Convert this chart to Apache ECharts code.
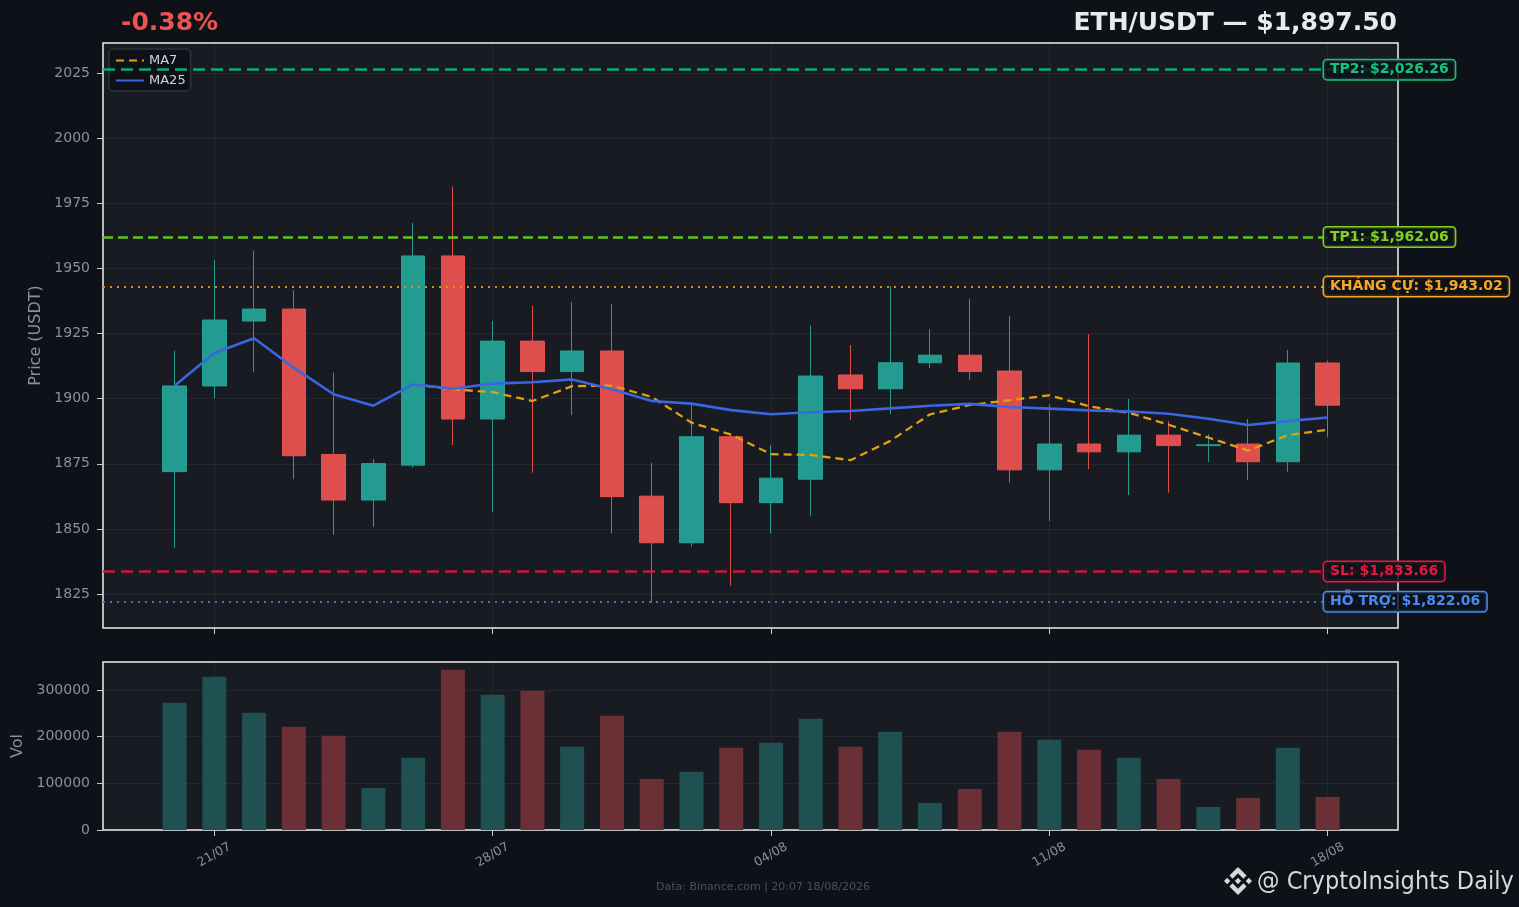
<!DOCTYPE html>
<html>
<head>
<meta charset="utf-8">
<script src="https://cdn.jsdelivr.net/npm/echarts@6/dist/echarts.min.js"></script>
<style>
html, body { margin: 0; padding: 0; background: #0e1118; }
#chart { width: 1519px; height: 907px; }
</style>
</head>
<body>
<div id="chart"></div>
<script>
// daily candles, 20/07 -> 18/08
var dates = ['20/07','21/07','22/07','23/07','24/07','25/07','26/07','27/07','28/07','29/07','30/07','31/07',
  '01/08','02/08','03/08','04/08','05/08','06/08','07/08','08/08','09/08','10/08','11/08','12/08','13/08','14/08',
  '15/08','16/08','17/08','18/08'];
var opens  = [1872.0,1904.9,1929.8,1934.4,1878.6,1861.1,1874.5,1954.8,1892.2,1922.1,1910.4,1918.3,1862.6,1844.7,1885.4,
  1860.1,1869.1,1909.1,1903.8,1913.8,1916.7,1910.6,1872.7,1882.6,1879.6,1886.0,1882.0,1882.6,1875.8,1913.7];
var closes = [1904.9,1930.2,1934.4,1878.1,1861.1,1875.1,1954.8,1892.2,1922.1,1910.4,1918.3,1862.4,1844.7,1885.4,1860.1,
  1869.5,1908.7,1903.8,1913.8,1916.7,1910.4,1872.7,1882.6,1879.6,1886.0,1882.0,1882.3,1875.8,1913.7,1897.5];
var lows   = [1842.8,1900.2,1910.3,1869.1,1847.8,1850.8,1873.5,1882.2,1856.6,1871.6,1893.7,1848.3,1821.8,1843.2,1828.2,
  1848.3,1855.1,1891.8,1894.1,1911.8,1907.3,1867.8,1853.1,1873.0,1863.0,1863.9,1875.7,1868.8,1872.0,1885.4];
var highs  = [1918.4,1953.2,1956.8,1941.7,1910.0,1876.8,1967.5,1981.4,1929.8,1935.6,1937.1,1936.4,1875.4,1898.4,1886.0,
  1882.2,1928.0,1920.6,1943.3,1926.7,1938.3,1931.7,1897.9,1924.8,1899.9,1891.4,1886.4,1892.2,1918.7,1914.6];
var volumes = [272700,328600,251300,221200,201900,90200,154600,343600,289900,298500,178200,244800,109500,124600,176100,
  186800,238400,178200,210500,58000,88000,210500,193300,171800,154600,109500,49400,68700,176100,70900];
var ma7  = [null,null,null,null,null,null,1905.5,1903.6,1902.5,1899.1,1904.8,1905.0,1900.7,1890.8,1886.2,
  1878.7,1878.4,1876.4,1883.8,1894.0,1897.6,1899.4,1901.3,1897.1,1894.6,1890.0,1885.1,1880.1,1886.0,1888.1];
var ma25 = [1905.0,1917.5,1923.2,1911.9,1901.7,1897.3,1905.5,1903.8,1905.8,1906.3,1907.4,1903.6,1899.1,1898.1,1895.6,
  1894.0,1894.8,1895.3,1896.3,1897.3,1898.0,1896.8,1896.2,1895.5,1895.1,1894.2,1892.3,1889.9,1891.4,1892.8];

// key levels
var levelNames  = ['TP2', 'TP1', 'KHÁNG CỰ', 'SL', 'HỖ TRỢ'];
var levelValues = [2026.26, 1962.06, 1943.02, 1833.66, 1822.06];

// tick labels
var dateTicks  = ['21/07', '28/07', '04/08', '11/08', '18/08'];
var priceTicks = [1825, 1850, 1875, 1900, 1925, 1950, 1975, 2000, 2025];
var volTicks   = [0, 100000, 200000, 300000];

var FONT = "'DejaVu Sans', sans-serif";
var UP = '#26a69a', DOWN = '#ef5350';
var lineColors  = ['#00b26a', '#62c51a', '#d4940e', '#c8193a', '#3a6fd0'];
var lineTypes   = [[12, 6], [10, 5], [2, 5], [12, 6], [2, 5]];
var labelColors = ['#14c47c', '#7ed321', '#f5a623', '#e8173f', '#4a8af0'];

// x position of each day (21/07 = 0)
var xs = dates.map(function (d, i) { return i - 1; });
var tickXs = dateTicks.map(function (t) { return dates.indexOf(t) - 1; });

var candleData = dates.map(function (d, i) { return [xs[i], opens[i], closes[i], lows[i], highs[i]]; });
var volData = dates.map(function (d, i) { return [xs[i], volumes[i]]; });
var ma7Data = dates.map(function (d, i) { return [xs[i], ma7[i] == null ? '-' : ma7[i]]; });
var ma25Data = dates.map(function (d, i) { return [xs[i], ma25[i]]; });

function fmtMoney(v) {
  return '$' + v.toLocaleString('en-US', { minimumFractionDigits: 2, maximumFractionDigits: 2 });
}

var markLines = levelValues.map(function (v, i) {
  return {
    yAxis: v,
    lineStyle: { color: lineColors[i], type: lineTypes[i], width: i === 2 || i === 4 ? 2.2 : 2.6, opacity: 1 },
    label: {
      show: true,
      position: 'end',
      distance: 0,
      offset: [-74, 0],
      formatter: levelNames[i] + ': ' + fmtMoney(v),
      color: labelColors[i],
      fontFamily: FONT,
      fontWeight: 'bold',
      fontSize: 14,
      backgroundColor: 'rgba(14,17,24,0.82)',
      borderColor: labelColors[i],
      borderWidth: 1.5,
      borderRadius: 3,
      padding: [3, 6, 2, 6]
    }
  };
});

function xAxisCfg(gridIndex, showLabels) {
  return {
    type: 'value', gridIndex: gridIndex, min: -2.8, max: 29.77, minInterval: 7, maxInterval: 7,
    axisLine: { show: false, onZero: false },
    axisTick: { show: true, length: 6, lineStyle: { color: '#c9ccd2' }, customValues: tickXs },
    axisLabel: {
      show: showLabels, customValues: tickXs, rotate: 30, align: 'center', verticalAlign: 'middle',
      margin: 25, color: '#8b9099', fontSize: 12.5, fontFamily: FONT,
      formatter: function (v) {
        var r = Math.round(v);
        return Math.abs(v - r) < 1e-6 && dates[r + 1] ? dates[r + 1] : '';
      }
    },
    splitLine: { show: true, lineStyle: { color: 'rgba(255,255,255,0.055)', width: 1 } }
  };
}

// binance-style logo, drawn as polygons in a 24x24 box
var logoShapes = [
  [[12,0],[19.35,7.35],[16.63,10.06],[12,5.43],[7.37,10.06],[4.65,7.35]],
  [[12,24],[19.35,16.65],[16.63,13.94],[12,18.57],[7.37,13.94],[4.65,16.65]],
  [[2.7,9.3],[5.4,12],[2.7,14.7],[0,12]],
  [[21.3,9.3],[24,12],[21.3,14.7],[18.6,12]],
  [[12,9.3],[14.7,12],[12,14.7],[9.3,12]]
];
var logoEls = logoShapes.map(function (pts) {
  return {
    type: 'polygon',
    shape: { points: pts.map(function (p) { return [1224 + p[0] * 28 / 24, 867 + p[1] * 28 / 24]; }) },
    style: { fill: '#d6d8dc' }
  };
});

var myChart = echarts.init(document.getElementById('chart'));

var option = {
  backgroundColor: '#0e1118',
  animation: false,
  textStyle: { fontFamily: FONT },
  grid: [
    { left: 103, top: 43, width: 1295, height: 585, show: true, backgroundColor: '#181b22',
      borderColor: '#f0f0f0', borderWidth: 1.5, containLabel: false },
    { left: 103, top: 662, width: 1295, height: 168, show: true, backgroundColor: '#181b22',
      borderColor: '#f0f0f0', borderWidth: 1.5, containLabel: false }
  ],
  legend: {
    data: ['MA7', 'MA25'], orient: 'vertical', left: 109, top: 49,
    backgroundColor: 'rgba(14,17,24,0.9)', borderColor: '#2e333d', borderWidth: 1.5, borderRadius: 4,
    padding: [5, 5, 4, 6], itemGap: 7, itemWidth: 28, itemHeight: 12,
    itemStyle: { opacity: 0 },
    textStyle: { color: '#d1d4dc', fontSize: 13, fontFamily: FONT }
  },
  xAxis: [xAxisCfg(0, false), xAxisCfg(1, true)],
  yAxis: [
    {
      type: 'value', gridIndex: 0, min: 1812, max: 2036.5, minInterval: 25, maxInterval: 25,
      name: 'Price (USDT)', nameLocation: 'middle', nameGap: 56, nameRotate: 90,
      nameTextStyle: { color: '#8b9099', fontSize: 16, fontFamily: FONT },
      axisLine: { show: false, onZero: false },
      axisTick: { show: true, length: 6, lineStyle: { color: '#c9ccd2' }, customValues: priceTicks },
      axisLabel: {
        customValues: priceTicks, color: '#8b9099', fontSize: 14, fontFamily: FONT, margin: 13,
        formatter: function (v) { return v % 25 === 0 ? String(v) : ''; }
      },
      splitLine: { show: true, lineStyle: { color: 'rgba(255,255,255,0.055)' } }
    },
    {
      type: 'value', gridIndex: 1, min: 0, max: 360000, interval: 100000,
      name: 'Vol', nameLocation: 'middle', nameGap: 74, nameRotate: 90,
      nameTextStyle: { color: '#8b9099', fontSize: 16, fontFamily: FONT },
      axisLine: { show: false, onZero: false },
      axisTick: { show: true, length: 6, lineStyle: { color: '#c9ccd2' }, customValues: volTicks },
      axisLabel: {
        customValues: volTicks, color: '#8b9099', fontSize: 14, fontFamily: FONT, margin: 13,
        formatter: function (v) { return v % 100000 === 0 ? String(v) : ''; }
      },
      splitLine: { show: true, lineStyle: { color: 'rgba(255,255,255,0.055)' } }
    }
  ],
  series: [
    {
      name: 'ETH', type: 'candlestick', xAxisIndex: 0, yAxisIndex: 0,
      encode: { x: 0, y: [1, 2, 3, 4] },
      data: candleData,
      barWidth: 24,
      itemStyle: {
        color: UP, color0: DOWN, borderColor: UP, borderColor0: DOWN, borderWidth: 1, opacity: 0.92
      },
      markLine: { silent: true, symbol: ['none', 'none'], animation: false, z: 5, data: markLines },
      z: 2
    },
    {
      name: 'MA7', type: 'line', xAxisIndex: 0, yAxisIndex: 0, data: ma7Data,
      symbol: 'none', smooth: false, z: 4,
      lineStyle: { color: '#e0a010', width: 2.3, type: [8, 5] },
      itemStyle: { color: '#e0a010' }
    },
    {
      name: 'MA25', type: 'line', xAxisIndex: 0, yAxisIndex: 0, data: ma25Data,
      symbol: 'none', smooth: false, z: 4,
      lineStyle: { color: '#3a66e0', width: 2.6 },
      itemStyle: { color: '#3a66e0' }
    },
    {
      name: 'Vol', type: 'bar', xAxisIndex: 1, yAxisIndex: 1, data: volData,
      barWidth: 24,
      itemStyle: {
        color: function (p) { return closes[p.dataIndex] >= opens[p.dataIndex] ? '#1f5152' : '#6b3035'; }
      }
    }
  ],
  graphic: [
    { type: 'text', x: 121, y: 23,
      style: { text: '-0.38%', fill: '#ef5350', font: 'bold 25px ' + FONT, align: 'left', verticalAlign: 'middle' } },
    { type: 'text', x: 1397, y: 23,
      style: { text: 'ETH/USDT — $1,897.50', fill: '#e8eaee', font: 'bold 25px ' + FONT, align: 'right', verticalAlign: 'middle' } },
    { type: 'text', x: 763, y: 887,
      style: { text: 'Data: Binance.com | 20:07 18/08/2026', fill: '#4d5159', font: '11px ' + FONT, align: 'center', verticalAlign: 'middle' } },
    { type: 'text', x: 1257, y: 882,
      style: { text: '@ CryptoInsights Daily', fill: '#d6d8dc', font: "25px 'DejaVu Sans Condensed', 'Noto Sans', sans-serif", align: 'left', verticalAlign: 'middle' } }
  ].concat(logoEls)
};

myChart.setOption(option);
</script>
</body>
</html>
